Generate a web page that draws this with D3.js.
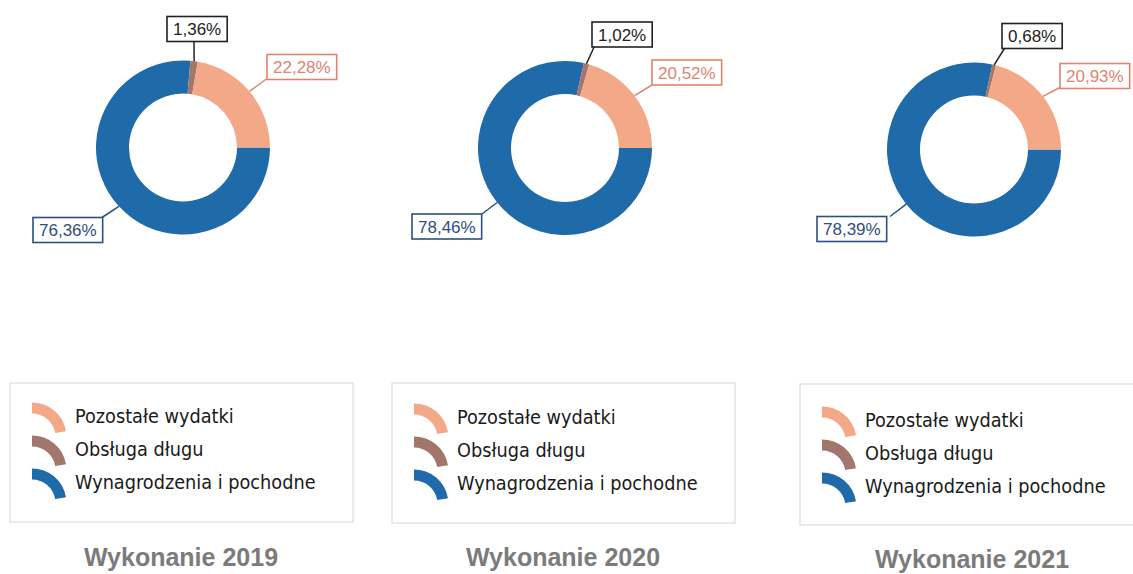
<!DOCTYPE html>
<html>
<head>
<meta charset="utf-8">
<script src="https://cdn.jsdelivr.net/npm/d3@7"></script>
<style>
  html, body { margin: 0; padding: 0; background: #ffffff; }
  svg { display: block; }
</style>
</head>
<body>
<svg id="chart" width="1133" height="574"></svg>
<script>
// ---- data ----
const categories = ["Wynagrodzenia i pochodne", "Obsługa długu", "Pozostałe wydatki"];
const legendOrder = ["Pozostałe wydatki", "Obsługa długu", "Wynagrodzenia i pochodne"];
const years = ["2019", "2020", "2021"];
const titles = ["Wykonanie 2019", "Wykonanie 2020", "Wykonanie 2021"];
const wynagrodzenia = [76.36, 78.46, 78.39];
const obslugaDlugu = [1.36, 1.02, 0.68];
const pozostale = [22.28, 20.52, 20.93];

// ---- styling / layout ----
const colors = {
  "Wynagrodzenia i pochodne": "#1f6aa8",
  "Obsługa długu": "#a2766a",
  "Pozostałe wydatki": "#f3a888"
};
const labelColors = {
  "Wynagrodzenia i pochodne": "#2d4f80",
  "Obsługa długu": "#222222",
  "Pozostałe wydatki": "#e0836f"
};
const centers = [[183, 147.5], [565, 148], [974, 149.5]];
const outerR = 87, innerR = 54;
// label boxes: offset of box top-left relative to centre, and leader anchor on the box (relative to box top-left)
const labelLayout = [
  { "Obsługa długu": [-16, -131, 27, 25], "Pozostałe wydatki": [84, -93, 0, 24], "Wynagrodzenia i pochodne": [-150, 70, 69, 0] },
  { "Obsługa długu": [27, -126, 3, 23], "Pozostałe wydatki": [87, -88, 0, 25], "Wynagrodzenia i pochodne": [-153, 66, 70, 0] },
  { "Obsługa długu": [28, -126, 3, 24], "Pozostałe wydatki": [86, -86, 0, 24], "Wynagrodzenia i pochodne": [-157, 67, 73, 0] }
];
const legendBoxes = [[10, 383, 343, 139], [392, 383, 343, 140], [800, 384, 350, 141]];
const legendRowDy = [0, 1, 3];
const titleCenters = [[181, 566], [563, 566], [972, 568]];

const svg = d3.select("#chart");
svg.append("rect").attr("width", 1133).attr("height", 574).attr("fill", "#ffffff");

const pie = d3.pie().sort(null).value(d => d.value)
  .startAngle(Math.PI / 2).endAngle(Math.PI / 2 + 2 * Math.PI);
const arc = d3.arc().innerRadius(innerR).outerRadius(outerR);
const fmt = v => v.toFixed(2).replace(".", ",") + "%";

years.forEach((yr, i) => {
  const data = [
    { name: categories[0], value: wynagrodzenia[i] },
    { name: categories[1], value: obslugaDlugu[i] },
    { name: categories[2], value: pozostale[i] }
  ];
  const [cx, cy] = centers[i];
  const g = svg.append("g").attr("transform", `translate(${cx},${cy})`);
  const arcs = pie(data);

  g.selectAll("path.slice").data(arcs).join("path")
    .attr("class", "slice")
    .attr("d", arc)
    .attr("fill", d => colors[d.data.name]);

  // labels
  arcs.forEach(d => {
    const lay = labelLayout[i][d.data.name];
    const mid = (d.startAngle + d.endAngle) / 2;
    const px = Math.sin(mid) * outerR, py = -Math.cos(mid) * outerR;
    const lg = g.append("g");
    const t = lg.append("text")
      .attr("font-family", "'Liberation Sans', Arial, sans-serif")
      .attr("font-size", 17)
      .attr("fill", labelColors[d.data.name])
      .text(fmt(d.data.value));
    const w = t.node().getComputedTextLength();
    const bw = w + 12, bh = 25;
    const bx = lay[0], by = lay[1];
    t.attr("x", bx + bw / 2).attr("y", by + 18.5).attr("text-anchor", "middle");
    lg.insert("rect", "text")
      .attr("x", bx).attr("y", by).attr("width", bw).attr("height", bh)
      .attr("fill", "#ffffff")
      .attr("stroke", labelColors[d.data.name])
      .attr("stroke-width", 1.6);
    g.insert("line", "g")
      .attr("x1", px).attr("y1", py)
      .attr("x2", bx + lay[2]).attr("y2", by + lay[3])
      .attr("stroke", labelColors[d.data.name])
      .attr("stroke-width", 1.5);
  });

  // legend
  const [lx, ly, lw, lh] = legendBoxes[i];
  const lgd = svg.append("g");
  lgd.append("rect").attr("x", lx).attr("y", ly).attr("width", lw).attr("height", lh)
    .attr("fill", "#ffffff").attr("stroke", "#d6d6d6").attr("stroke-width", 1);
  const iconArc = d3.arc().innerRadius(23.5).outerRadius(34.5).startAngle(0).endAngle(1.4);
  legendOrder.forEach((name, k) => {
    const base = ly + 40 + k * 33 + legendRowDy[i];
    lgd.append("path")
      .attr("d", iconArc())
      .attr("transform", `translate(${lx + 22},${base + 14})`)
      .attr("fill", colors[name]);
    lgd.append("text")
      .attr("x", lx + 65).attr("y", base)
      .attr("font-family", "'DejaVu Sans Condensed', 'DejaVu Sans', sans-serif")
      .attr("font-size", 19.7)
      .attr("fill", "#1a1a1a")
      .text(name);
  });

  // title
  svg.append("text")
    .attr("x", titleCenters[i][0]).attr("y", titleCenters[i][1])
    .attr("text-anchor", "middle")
    .attr("font-family", "'Liberation Sans', Arial, sans-serif")
    .attr("font-weight", "bold")
    .attr("font-size", 25)
    .attr("fill", "#7b7b7b")
    .text(titles[i]);
});
</script>
</body>
</html>
